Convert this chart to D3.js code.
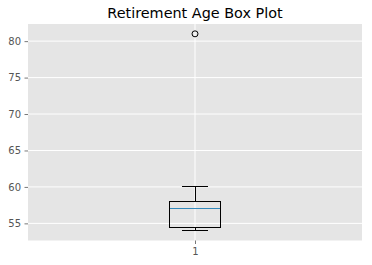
<!DOCTYPE html>
<html>
<head>
<meta charset="utf-8">
<script src="https://cdn.jsdelivr.net/npm/d3@7"></script>
<style>
  body { margin: 0; background: #fff; }
  text { font-family: "DejaVu Sans", sans-serif; }
</style>
</head>
<body>
<div id="chart"></div>
<script>
const width = 372;
const height = 265;

// box summary
const categories = ["1"];
const whiskerLow = [54];
const q1 = [54.5];
const median = [57];
const q3 = [58];
const whiskerHigh = [60];
const fliers = [[81]];
const yTicks = [55, 60, 65, 70, 75, 80];

const margin = {top: 24, right: 10, bottom: 24.5, left: 28};

const svg = d3.select("#chart").append("svg")
    .attr("width", width)
    .attr("height", height);

const x = d3.scaleLinear()
    .domain([0.5, 1.5])
    .range([margin.left, width - margin.right]);

const y = d3.scaleLinear()
    .domain([52.65, 82.35])
    .range([height - margin.bottom, margin.top]);

// panel background
svg.append("rect")
    .attr("x", margin.left)
    .attr("y", margin.top)
    .attr("width", width - margin.left - margin.right)
    .attr("height", height - margin.top - margin.bottom)
    .attr("fill", "#e5e5e5");

// grid lines
svg.append("g")
    .selectAll("line.hgrid")
    .data(yTicks)
    .join("line")
    .attr("x1", margin.left)
    .attr("x2", width - margin.right)
    .attr("y1", d => y(d))
    .attr("y2", d => y(d))
    .attr("stroke", "#fff")
    .attr("stroke-width", 1);

svg.append("g")
    .selectAll("line.vgrid")
    .data(categories)
    .join("line")
    .attr("x1", (d, i) => x(i + 1))
    .attr("x2", (d, i) => x(i + 1))
    .attr("y1", margin.top)
    .attr("y2", height - margin.bottom)
    .attr("stroke", "#fff")
    .attr("stroke-width", 1);

// axes
const yAxis = svg.append("g")
    .attr("transform", `translate(${margin.left},0)`)
    .call(d3.axisLeft(y).tickValues(yTicks).tickSize(3.5).tickPadding(3.5));

const xAxis = svg.append("g")
    .attr("transform", `translate(0,${height - margin.bottom})`)
    .call(d3.axisBottom(x).tickValues([1]).tickFormat((d, i) => categories[i])
        .tickSize(3.5).tickPadding(3.5));

[yAxis, xAxis].forEach(a => {
    a.select(".domain").remove();
    a.selectAll(".tick line").attr("stroke", "#555").attr("stroke-width", 0.8);
    a.selectAll(".tick text")
        .attr("fill", "#555")
        .style("font-size", "10px")
        .style("font-family", "'DejaVu Sans', sans-serif");
});

// boxes
const boxW = 0.15;
const capW = boxW / 2;
const box = svg.append("g")
    .attr("shape-rendering", "crispEdges")
    .selectAll("g.box")
    .data(categories)
    .join("g")
    .attr("class", "box");

// whiskers
box.append("line")
    .attr("x1", (d, i) => x(i + 1)).attr("x2", (d, i) => x(i + 1))
    .attr("y1", (d, i) => y(q3[i])).attr("y2", (d, i) => y(whiskerHigh[i]))
    .attr("stroke", "#000");
box.append("line")
    .attr("x1", (d, i) => x(i + 1)).attr("x2", (d, i) => x(i + 1))
    .attr("y1", (d, i) => y(q1[i])).attr("y2", (d, i) => y(whiskerLow[i]))
    .attr("stroke", "#000");

// caps
box.append("line")
    .attr("x1", (d, i) => x(i + 1 - capW / 2)).attr("x2", (d, i) => x(i + 1 + capW / 2))
    .attr("y1", (d, i) => y(whiskerHigh[i])).attr("y2", (d, i) => y(whiskerHigh[i]))
    .attr("stroke", "#000");
box.append("line")
    .attr("x1", (d, i) => x(i + 1 - capW / 2)).attr("x2", (d, i) => x(i + 1 + capW / 2))
    .attr("y1", (d, i) => y(whiskerLow[i])).attr("y2", (d, i) => y(whiskerLow[i]))
    .attr("stroke", "#000");

// box
box.append("rect")
    .attr("x", (d, i) => x(i + 1 - boxW / 2))
    .attr("width", (d, i) => x(i + 1 + boxW / 2) - x(i + 1 - boxW / 2))
    .attr("y", (d, i) => y(q3[i]))
    .attr("height", (d, i) => y(q1[i]) - y(q3[i]))
    .attr("fill", "none")
    .attr("stroke", "#000");

// median
box.append("line")
    .attr("x1", (d, i) => x(i + 1 - boxW / 2)).attr("x2", (d, i) => x(i + 1 + boxW / 2))
    .attr("y1", (d, i) => y(median[i])).attr("y2", (d, i) => y(median[i]))
    .attr("stroke", "#348ABD");

// fliers
box.each(function(d, i) {
    d3.select(this).selectAll("circle")
        .data(fliers[i])
        .join("circle")
        .attr("shape-rendering", "auto")
        .attr("cx", x(i + 1))
        .attr("cy", v => y(v))
        .attr("r", 3)
        .attr("fill", "none")
        .attr("stroke", "#000");
});

// title
svg.append("text")
    .attr("x", (margin.left + width - margin.right) / 2)
    .attr("y", 17.5)
    .attr("text-anchor", "middle")
    .attr("fill", "#000")
    .style("font-size", "14.4px")
    .text("Retirement Age Box Plot");
</script>
</body>
</html>
